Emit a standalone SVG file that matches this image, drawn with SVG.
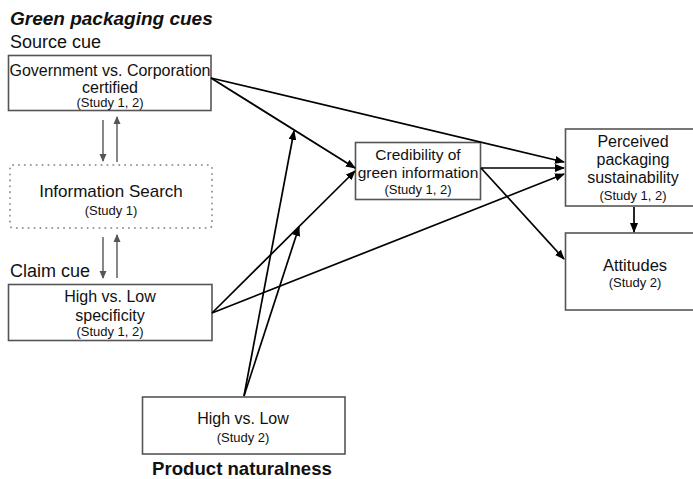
<svg xmlns="http://www.w3.org/2000/svg" width="693" height="479" viewBox="0 0 693 479">
<defs>
<marker id="ah" markerWidth="10" markerHeight="8" refX="9" refY="4" orient="auto" markerUnits="userSpaceOnUse"><path d="M0,0 L10,4 L0,8 Z" fill="#000"/></marker>
<marker id="ahg" markerWidth="8" markerHeight="8" refX="7" refY="4" orient="auto" markerUnits="userSpaceOnUse"><path d="M0,0.5 L8,4 L0,7.5 Z" fill="#555"/></marker>
<style>
text{font-family:"Liberation Sans",Arial,sans-serif;fill:#111;text-anchor:middle}
.box{fill:#fff;stroke:#555;stroke-width:1.6}
.dot{fill:none;stroke:#999;stroke-width:2;stroke-dasharray:0.1 5.8;stroke-linecap:round}
.m{font-size:16px}
.s{font-size:13px}
.lab{font-size:18px;text-anchor:start}
.c{fill:none;stroke:#000;stroke-width:1.7;marker-end:url(#ah)}
.g{fill:none;stroke:#555;stroke-width:1.4;marker-end:url(#ahg)}
</style>
</defs>
<rect width="693" height="479" fill="#fff"/>
<text x="10" y="25" style="font-size:19px;font-weight:bold;font-style:italic;text-anchor:start">Green packaging cues</text>
<text class="lab" x="10" y="48">Source cue</text>
<text class="lab" x="10" y="277">Claim cue</text>
<g id="gov">
<rect class="box" x="8.5" y="55.5" width="202.5" height="55"/>
<text class="m" x="110" y="76">Government vs. Corporation</text>
<text class="m" x="110" y="93">certified</text>
<text class="s" x="110" y="107">(Study 1, 2)</text>
</g>
<g id="search">
<rect class="dot" x="10" y="165" width="202" height="63" rx="3"/>
<text x="111" y="197" style="font-size:17px">Information Search</text>
<text class="s" x="111" y="215">(Study 1)</text>
</g>
<g id="claim">
<rect class="box" x="8.5" y="284.5" width="203.5" height="56"/>
<text class="m" x="110" y="302">High vs. Low</text>
<text class="m" x="110" y="321">specificity</text>
<text class="s" x="110" y="336">(Study 1, 2)</text>
</g>
<g id="cred">
<rect class="box" x="355.5" y="142.5" width="125" height="57"/>
<text x="418" y="160" style="font-size:15.5px">Credibility of</text>
<text x="418" y="178" style="font-size:15.5px">green information</text>
<text class="s" x="418" y="194">(Study 1, 2)</text>
</g>
<g id="perceived">
<rect class="box" x="565.5" y="129" width="140" height="77"/>
<text class="m" x="633" y="147">Perceived</text>
<text class="m" x="633" y="165">packaging</text>
<text class="m" x="633" y="183">sustainability</text>
<text class="s" x="633" y="200">(Study 1, 2)</text>
</g>
<g id="attitudes">
<rect class="box" x="565.5" y="233" width="140" height="77"/>
<text x="635" y="271" style="font-size:16.5px">Attitudes</text>
<text class="s" x="635" y="287">(Study 2)</text>
</g>
<g id="natural">
<rect class="box" x="142.5" y="397" width="202.5" height="57"/>
<text class="m" x="243" y="424">High vs. Low</text>
<text class="s" x="243" y="442">(Study 2)</text>
<text x="242" y="475" style="font-size:18.6px;font-weight:bold">Product naturalness</text>
</g>
<g id="connectors">
<line class="g" x1="103" y1="120" x2="103" y2="161"/>
<line class="g" x1="117" y1="162" x2="117" y2="117"/>
<line class="g" x1="103" y1="237" x2="103" y2="278"/>
<line class="g" x1="117" y1="278" x2="117" y2="235"/>
<line class="c" x1="211" y1="78" x2="355" y2="168"/>
<line class="c" x1="211" y1="78" x2="564" y2="162"/>
<line class="c" x1="212" y1="313" x2="355" y2="171"/>
<line class="c" x1="212" y1="313" x2="564" y2="174"/>
<line class="c" x1="244" y1="396" x2="294" y2="131"/>
<line class="c" x1="244" y1="396" x2="299" y2="227"/>
<line class="c" x1="481" y1="168" x2="564" y2="168"/>
<line class="c" x1="481" y1="168" x2="564" y2="259"/>
<line class="c" x1="634" y1="207" x2="634" y2="232"/>
</g>
</svg>
